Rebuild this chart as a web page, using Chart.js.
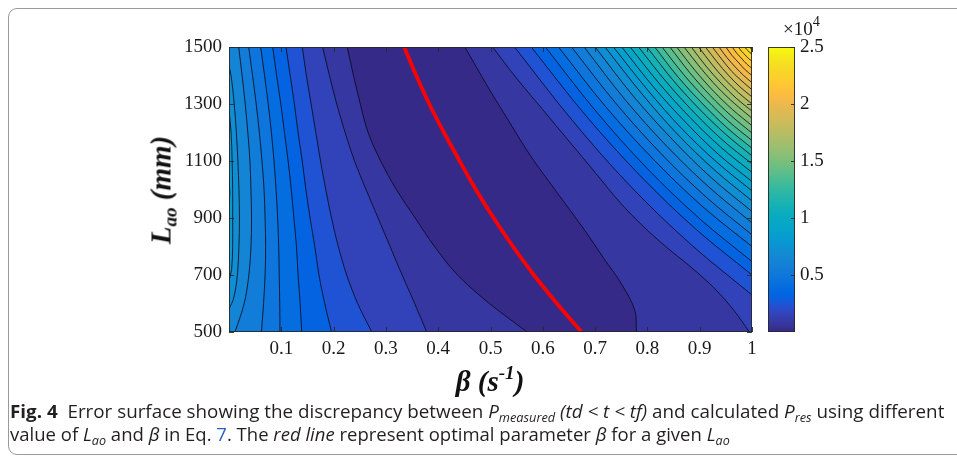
<!DOCTYPE html>
<html><head><meta charset="utf-8">
<script src="https://cdn.jsdelivr.net/npm/chart.js@4.4.1/dist/chart.umd.min.js"></script>
<style>
html,body{margin:0;padding:0;background:#fff;}
body{width:957px;height:458px;overflow:hidden;position:relative;}
canvas{position:absolute;left:0;top:0;}
#frame{position:absolute;left:8px;top:8px;width:1100px;height:447px;border:1px solid #9a9a9a;border-radius:9px;box-sizing:border-box;}
.axt{position:absolute;font-family:'Liberation Serif',serif;font-style:italic;font-weight:bold;font-size:29px;white-space:nowrap;color:#111;line-height:1;}
.axt sub{font-size:0.66em;vertical-align:-0.3em;line-height:0;}
.axt sup{font-size:0.66em;vertical-align:0.6em;line-height:0;}
#ytitle{left:161px;top:190px;transform:translate(-50%,-50%) rotate(-90deg);}
#xtitle{left:490px;top:381px;transform:translate(-50%,-50%);}
#cbexp{position:absolute;left:783px;top:19px;font-family:'Liberation Serif',serif;font-size:19px;line-height:1;color:#1a1a1a;white-space:nowrap;}
#cbexp sup{font-size:0.75em;vertical-align:0.65em;line-height:0;}
.cap{position:absolute;left:10px;font-family:'Open Sans',sans-serif;font-size:18px;line-height:22px;white-space:nowrap;transform-origin:0 0;color:#231f20;}
.cap sub{font-size:0.68em;vertical-align:-0.3em;line-height:0;}
.cap .lnk{color:#2a62c4;}
</style></head><body>
<div id="frame"></div>
<canvas id="main" width="957" height="458"></canvas>
<canvas id="cbar" width="957" height="458"></canvas>
<div id="ytitle" class="axt">L<sub>ao</sub> (mm)</div>
<div id="xtitle" class="axt">β (s<sup>-1</sup>)</div>
<div id="cbexp">×10<sup>4</sup></div>
<div id="cap1" class="cap" style="top:400px"><b>Fig. 4</b>&nbsp;&nbsp;Error surface showing the discrepancy between <i>P<sub>measured</sub> (td &lt; t &lt; tf)</i> and calculated <i>P<sub>res</sub></i> using different</div>
<div id="cap2" class="cap" style="top:423px">value of <i>L<sub>ao</sub></i> and <i>β</i> in Eq. <span class="lnk">7</span>. The <i>red line</i> represent optimal parameter <i>β</i> for a given <i>L<sub>ao</sub></i></div>
<script>
// ---------------- data ----------------
const xRange = [0, 1];
const yRange = [500, 1500];
const xTickValues = [0.1,0.2,0.3,0.4,0.5,0.6,0.7,0.8,0.9,1];
const xTickLabels = ['0.1','0.2','0.3','0.4','0.5','0.6','0.7','0.8','0.9','1'];
const yTickValues = [500,700,900,1100,1300,1500];
const yTickLabels = ['500','700','900','1100','1300','1500'];
const cRange = [0, 25000];
const cbarTickValues = [5000,10000,15000,20000,25000];
const cbarTickLabels = ['0.5','1','1.5','2','2.5'];
// contour level values (error), level 0 = valley floor
const levels = [0,806,1613,2419,3226,4032,4839,5645,6452,7258,8065,8871,9677,10484,11290,12097,
  12903,13710,14516,15323,16129,16935,17742,18548,19355,20161,20968,21774,22581,23387,24194];
// contours on the low-beta side: [beta, L] points, level 1..11
const leftContours = [
  [[0.226,1500],[0.238,1400],[0.251,1300],[0.266,1200],[0.290,1100],[0.320,1000],[0.356,900],[0.393,800],[0.437,700],[0.498,600],[0.570,500]],
  [[0.179,1500],[0.192,1400],[0.206,1300],[0.222,1200],[0.240,1100],[0.262,1000],[0.285,900],[0.308,800],[0.331,700],[0.355,600],[0.378,500]],
  [[0.140,1500],[0.148,1400],[0.157,1300],[0.166,1200],[0.175,1100],[0.185,1000],[0.196,900],[0.209,800],[0.225,700],[0.246,600],[0.273,500]],
  [[0.109,1500],[0.117,1400],[0.125,1300],[0.132,1200],[0.140,1100],[0.147,1000],[0.155,900],[0.164,800],[0.172,700],[0.183,600],[0.196,500]],
  [[0.0835,1500],[0.091,1400],[0.099,1300],[0.106,1200],[0.113,1100],[0.119,1000],[0.124,900],[0.129,800],[0.132,700],[0.136,600],[0.139,500]],
  [[0.0605,1500],[0.068,1400],[0.075,1300],[0.081,1200],[0.086,1100],[0.090,1000],[0.093,900],[0.095,800],[0.096,700],[0.097,600],[0.0975,500]],
  [[0.0376,1500],[0.045,1400],[0.052,1300],[0.058,1200],[0.063,1100],[0.067,1000],[0.069,900],[0.070,800],[0.069,700],[0.066,600],[0.062,500]],
  [[0.0185,1500],[0.025,1400],[0.031,1300],[0.036,1200],[0.040,1100],[0.042,1000],[0.043,900],[0.042,800],[0.038,700],[0.029,600],[0.0115,500]],
  [[0,1432],[0.004,1400],[0.010,1300],[0.014,1200],[0.017,1100],[0.019,1000],[0.020,900],[0.019,800],[0.016,700],[0.009,620],[0,580]],
  [[0,1280],[0.004,1200],[0.006,1100],[0.007,1000],[0.007,900],[0.007,800],[0.005,720],[0,680]],
  [[0,1040],[0.0015,990],[0,940]]
];
// contours on the high-beta side: [beta, L] points, level 1..30
const rightContours = [
  [[0.451,1500],[0.495,1360],[0.535,1240],[0.578,1114],[0.623,1000],[0.680,857],[0.716,760],[0.750,670],[0.776,576],[0.779,500]],
  [[0.504,1500],[0.550,1390],[0.600,1280],[0.650,1170],[0.700,1060],[0.745,960],[0.789,876],[0.835,800],[0.885,725],[0.930,650],[0.967,572],[0.995,500]],
  [[0.546,1500],[0.657,1241],[0.769,1009],[0.884,806],[1,630]],
  [[0.578,1500],[0.681,1262],[0.786,1049],[0.892,862],[1,700]],
  [[0.605,1500],[0.701,1276],[0.799,1075],[0.899,899],[1,747]],
  [[0.630,1500],[0.720,1291],[0.812,1105],[0.905,941],[1,800]],
  [[0.655,1500],[0.739,1304],[0.825,1128],[0.912,974],[1,841]],
  [[0.679,1500],[0.757,1316],[0.837,1152],[0.918,1008],[1,883]],
  [[0.700,1500],[0.773,1328],[0.848,1175],[0.923,1040],[1,923]],
  [[0.719,1500],[0.788,1339],[0.857,1195],[0.928,1069],[1,960]],
  [[0.735,1500],[0.800,1350],[0.865,1215],[0.932,1097],[1,995]],
  [[0.751,1500],[0.812,1359],[0.874,1234],[0.936,1123],[1,1028]],
  [[0.767,1500],[0.824,1369],[0.882,1252],[0.940,1149],[1,1060]],
  [[0.783,1500],[0.836,1378],[0.890,1269],[0.944,1173],[1,1090]],
  [[0.799,1500],[0.848,1386],[0.898,1285],[0.949,1195],[1,1118]],
  [[0.814,1500],[0.859,1394],[0.906,1300],[0.952,1217],[1,1145]],
  [[0.828,1500],[0.870,1402],[0.913,1315],[0.956,1238],[1,1172]],
  [[0.843,1500],[0.881,1410],[0.920,1330],[0.960,1259],[1,1198]],
  [[0.856,1500],[0.891,1418],[0.927,1344],[0.963,1280],[1,1224]],
  [[0.870,1500],[0.902,1426],[0.934,1359],[0.967,1301],[1,1250]],
  [[0.884,1500],[0.912,1433],[0.941,1373],[0.970,1320],[1,1275]],
  [[0.898,1500],[0.923,1440],[0.948,1387],[0.974,1340],[1,1300]],
  [[0.911,1500],[0.933,1448],[0.955,1401],[0.977,1360],[1,1325]],
  [[0.924,1500],[0.943,1455],[0.961,1415],[0.981,1380],[1,1350]],
  [[0.937,1500],[0.952,1463],[0.968,1430],[0.984,1400],[1,1375]],
  [[0.950,1500],[0.962,1470],[0.975,1444],[0.987,1420],[1,1400]],
  [[0.962,1500],[0.971,1478],[0.981,1458],[0.990,1440],[1,1425]],
  [[0.974,1500],[0.980,1485],[0.987,1472],[0.993,1460],[1,1450]],
  [[0.986,1500],[0.989,1493],[0.993,1486],[0.996,1480],[1,1475]],
  [[0.995,1500],[0.9975,1495],[1,1490]]
];
// optimal beta for each L (red line)
const optimalBeta = [[0.335,1500],[0.358,1400],[0.383,1300],[0.411,1200],[0.441,1100],[0.472,1000],
  [0.506,900],[0.543,800],[0.583,700],[0.627,600],[0.674,500]];

// ---------------- style ----------------
const parula = [[0.2081,0.1663,0.5292],[0.2116,0.1898,0.5777],[0.2123,0.2138,0.6270],[0.2081,0.2386,0.6771],
[0.1959,0.2645,0.7279],[0.1707,0.2919,0.7792],[0.1253,0.3242,0.8303],[0.0591,0.3598,0.8683],[0.0117,0.3875,0.8820],
[0.0060,0.4086,0.8828],[0.0165,0.4266,0.8786],[0.0329,0.4430,0.8720],[0.0498,0.4586,0.8641],[0.0629,0.4737,0.8554],
[0.0723,0.4887,0.8467],[0.0779,0.5040,0.8384],[0.0793,0.5200,0.8312],[0.0749,0.5375,0.8263],[0.0641,0.5570,0.8240],
[0.0488,0.5772,0.8228],[0.0343,0.5966,0.8199],[0.0265,0.6137,0.8135],[0.0239,0.6287,0.8038],[0.0231,0.6418,0.7913],
[0.0228,0.6535,0.7768],[0.0267,0.6642,0.7607],[0.0384,0.6743,0.7436],[0.0590,0.6838,0.7254],[0.0843,0.6928,0.7062],
[0.1133,0.7015,0.6859],[0.1453,0.7098,0.6646],[0.1801,0.7177,0.6424],[0.2178,0.7250,0.6193],[0.2586,0.7317,0.5954],
[0.3022,0.7376,0.5712],[0.3482,0.7424,0.5473],[0.3953,0.7459,0.5244],[0.4420,0.7481,0.5033],[0.4871,0.7491,0.4840],
[0.5300,0.7491,0.4661],[0.5709,0.7485,0.4494],[0.6099,0.7473,0.4337],[0.6473,0.7456,0.4188],[0.6834,0.7435,0.4044],
[0.7184,0.7411,0.3905],[0.7525,0.7384,0.3768],[0.7858,0.7356,0.3633],[0.8185,0.7327,0.3498],[0.8507,0.7299,0.3360],
[0.8824,0.7274,0.3217],[0.9139,0.7258,0.3063],[0.9450,0.7261,0.2886],[0.9739,0.7314,0.2666],[0.9938,0.7455,0.2403],
[0.9990,0.7653,0.2164],[0.9955,0.7861,0.1967],[0.9880,0.8066,0.1794],[0.9789,0.8271,0.1633],[0.9697,0.8481,0.1475],
[0.9626,0.8705,0.1309],[0.9589,0.8949,0.1132],[0.9598,0.9218,0.0948],[0.9661,0.9514,0.0755],[0.9763,0.9831,0.0538]];
const rgbOf = c => `rgb(${Math.round(c[0]*255)},${Math.round(c[1]*255)},${Math.round(c[2]*255)})`;
function cmap(v){
  let i = Math.floor((v - cRange[0]) / (cRange[1] - cRange[0]) * parula.length);
  i = Math.max(0, Math.min(parula.length - 1, i));
  return rgbOf(parula[i]);
}
const SERIF = "'Liberation Serif', 'Times New Roman', serif";
const TXT = '#1a1a1a';
const BOX = 'rgba(40,40,40,0.9)';

// ---------------- main contour chart ----------------
const datasets = [];
let drawIdx = 0;
function addContour(pts, level, side){
  datasets.push({
    data: pts.map(p => ({x: p[0], y: p[1]})),
    showLine: true, indexAxis: 'y',
    borderColor: 'rgba(8,8,24,0.9)', borderWidth: 0.9,
    backgroundColor: cmap(level),
    fill: {value: side === 'left' ? xRange[0] : xRange[1]},
    pointRadius: 0, pointHoverRadius: 0, pointHitRadius: 0,
    tension: 0.35,
    order: -(drawIdx++)
  });
}
leftContours.forEach((pts, i) => addContour(pts, levels[i + 1], 'left'));
rightContours.forEach((pts, i) => addContour(pts, levels[i + 1], 'right'));
datasets.push({
  data: optimalBeta.map(p => ({x: p[0], y: p[1]})),
  showLine: true, indexAxis: 'y', fill: false,
  borderColor: '#ff0000', borderWidth: 3.8,
  pointRadius: 0, pointHoverRadius: 0, pointHitRadius: 0,
  tension: 0.3, order: -(drawIdx++)
});

const framePlugin = {
  id: 'frameBox',
  beforeDatasetsDraw(chart){
    const {ctx, chartArea: a} = chart;
    ctx.save(); ctx.fillStyle = cmap(levels[0]);
    ctx.fillRect(a.left, a.top, a.right - a.left, a.bottom - a.top); ctx.restore();
  },
  afterDatasetsDraw(chart){
    const {ctx, chartArea: a, scales: {x, y}} = chart;
    ctx.save(); ctx.strokeStyle = BOX; ctx.lineWidth = 1; ctx.beginPath();
    xTickValues.forEach(v => { const p = Math.round(x.getPixelForValue(v)) + 0.5;
      ctx.moveTo(p, a.bottom); ctx.lineTo(p, a.bottom - 5); ctx.moveTo(p, a.top); ctx.lineTo(p, a.top + 5); });
    yTickValues.forEach(v => { const p = Math.round(y.getPixelForValue(v)) + 0.5;
      ctx.moveTo(a.left, p); ctx.lineTo(a.left + 5, p); ctx.moveTo(a.right, p); ctx.lineTo(a.right - 5, p); });
    ctx.stroke();
    ctx.strokeRect(a.left + 0.5, a.top + 0.5, a.right - a.left - 1, a.bottom - a.top - 1);
    ctx.restore();
  }
};

new Chart(document.getElementById('main'), {
  type: 'scatter',
  data: {datasets},
  plugins: [framePlugin],
  options: {
    responsive: false, animation: false, indexAxis: 'y',
    layout: {padding: {left: 0, right: 205, top: 47, bottom: 0}},
    plugins: {legend: {display: false}, tooltip: {enabled: false}},
    events: [],
    scales: {
      x: {type: 'linear', position: 'bottom', min: xRange[0], max: xRange[1],
        afterFit: s => { s.height = 126; },
        afterBuildTicks: s => { s.ticks = xTickValues.map(v => ({value: v})); },
        grid: {display: false, drawTicks: false}, border: {display: false},
        ticks: {autoSkip: false, maxRotation: 0, padding: 6, color: TXT,
          font: {family: SERIF, size: 19}, callback: (v, i) => xTickLabels[i]}},
      y: {type: 'linear', position: 'left', min: yRange[0], max: yRange[1],
        afterFit: s => { s.width = 229; },
        afterBuildTicks: s => { s.ticks = yTickValues.map(v => ({value: v})); },
        grid: {display: false, drawTicks: false}, border: {display: false},
        ticks: {autoSkip: false, padding: 7, color: TXT,
          font: {family: SERIF, size: 19}, callback: (v, i) => yTickLabels[i]}}
    }
  }
});

// ---------------- colorbar ----------------
const cbarPlugin = {
  id: 'cbarBox',
  afterDatasetsDraw(chart){
    const {ctx, chartArea: a, scales: {y}} = chart;
    ctx.save(); ctx.strokeStyle = BOX; ctx.lineWidth = 1; ctx.beginPath();
    cbarTickValues.forEach(v => { const p = Math.round(y.getPixelForValue(v)) + 0.5;
      ctx.moveTo(a.right, p); ctx.lineTo(a.right - 4, p); });
    ctx.stroke();
    ctx.strokeRect(a.left + 0.5, a.top + 0.5, a.right - a.left - 1, a.bottom - a.top - 1);
    ctx.restore();
  }
};
new Chart(document.getElementById('cbar'), {
  type: 'bar',
  data: {labels: [''], datasets: [{
    data: [[cRange[0], cRange[1]]], barPercentage: 1, categoryPercentage: 1, borderWidth: 0,
    backgroundColor: (ctx) => {
      const a = ctx.chart.chartArea;
      if (!a) return rgbOf(parula[0]);
      const g = ctx.chart.ctx.createLinearGradient(0, a.bottom, 0, a.top);
      parula.forEach((c, i) => g.addColorStop(i / (parula.length - 1), rgbOf(c)));
      return g;
    }
  }]},
  plugins: [cbarPlugin],
  options: {
    responsive: false, animation: false, events: [],
    layout: {padding: {left: 768, right: 0, top: 47, bottom: 126}},
    plugins: {legend: {display: false}, tooltip: {enabled: false}},
    scales: {
      x: {display: false},
      y: {position: 'right', min: cRange[0], max: cRange[1],
        afterFit: s => { s.width = 162; },
        afterBuildTicks: s => { s.ticks = cbarTickValues.map(v => ({value: v})); },
        grid: {display: false, drawTicks: false}, border: {display: false},
        ticks: {padding: 5, color: TXT, font: {family: SERIF, size: 19},
          callback: (v, i) => cbarTickLabels[i]}}
    }
  }
});

// ---------------- caption fitting ----------------
function fitCaption(id, target){
  const el = document.getElementById(id);
  el.style.transform = 'none';
  const w = el.scrollWidth;
  el.style.transform = 'scaleX(' + (target / w) + ')';
}
fitCaption('cap1', 934);
fitCaption('cap2', 720);
</script>
</body></html>
